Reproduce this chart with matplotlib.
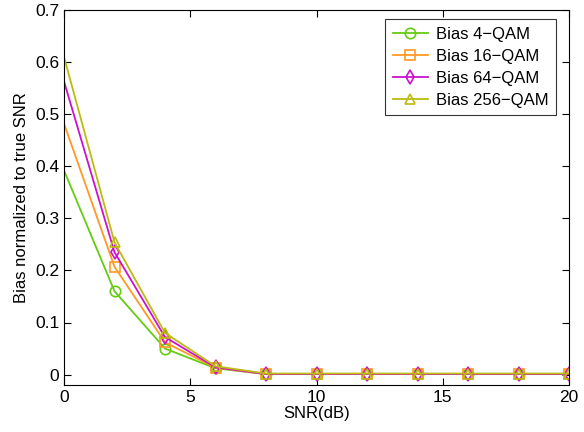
import matplotlib
matplotlib.use("Agg")
import matplotlib.pyplot as plt

snr_db = [0, 2, 4, 6, 8, 10, 12, 14, 16, 18, 20]
bias_4qam = [0.392, 0.160, 0.050, 0.012, 0.001, 0.001, 0.001, 0.001, 0.001, 0.001, 0.001]
bias_16qam = [0.482, 0.207, 0.062, 0.013, 0.001, 0.001, 0.001, 0.001, 0.001, 0.001, 0.001]
bias_64qam = [0.563, 0.235, 0.072, 0.014, 0.001, 0.001, 0.001, 0.001, 0.001, 0.001, 0.001]
bias_256qam = [0.610, 0.254, 0.080, 0.016, 0.002, 0.002, 0.002, 0.002, 0.002, 0.002, 0.002]

series = [
    ("Bias 4\u2212QAM", bias_4qam, "#66cc11", "o"),
    ("Bias 16\u2212QAM", bias_16qam, "#ff9922", "s"),
    ("Bias 64\u2212QAM", bias_64qam, "#cc11cc", "d"),
    ("Bias 256\u2212QAM", bias_256qam, "#bbbb11", "^"),
]

plt.rcParams["font.family"] = ["Liberation Sans", "DejaVu Sans"]
fig = plt.figure(figsize=(5.84, 4.32), dpi=100)
ax = fig.add_axes([64 / 584, 1 - 385 / 432, (569 - 64) / 584, (385 - 10) / 432])

for label, vals, color, marker in series:
    ax.plot(snr_db, vals, color=color, marker=marker, markersize=7.5, markerfacecolor="none",
            markeredgecolor=color, markeredgewidth=1.2, linewidth=1.3, label=label,
            markevery=list(range(1, len(snr_db))))

ax.set_xlim(0, 20)
ax.set_ylim(-0.02, 0.7)
ax.set_xticks([0, 5, 10, 15, 20])
ax.set_yticks([0, 0.1, 0.2, 0.3, 0.4, 0.5, 0.6, 0.7])
ax.set_yticklabels(["0", "0.1", "0.2", "0.3", "0.4", "0.5", "0.6", "0.7"])
ax.tick_params(direction="in", top=True, right=True, labelsize=12.5, length=5)
ax.set_xlabel("SNR(dB)", fontsize=12, labelpad=1)
ax.set_ylabel("Bias normalized to true SNR", fontsize=12)

leg = ax.legend(loc="upper right", bbox_to_anchor=(556 / 584, 1 - 19 / 432),
                bbox_transform=fig.transFigure, fontsize=12, frameon=True, fancybox=False,
                borderaxespad=0, handlelength=2.1, handletextpad=0.5,
                labelspacing=0.42, borderpad=0.45)
leg.get_frame().set_edgecolor("black")
leg.get_frame().set_linewidth(0.8)

fig.savefig("out.png", dpi=100)
